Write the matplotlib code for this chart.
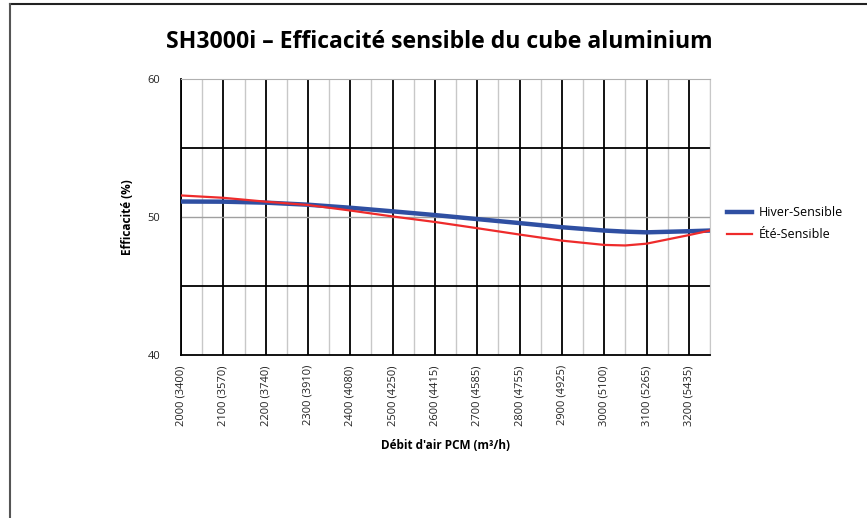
import matplotlib
matplotlib.use('Agg')
import matplotlib.pyplot as plt
from matplotlib.lines import Line2D

plt.rcParams['font.family'] = ['Open Sans', 'DejaVu Sans']

# débit d'air (PCM), le dernier point ferme la courbe au bord droit
debit = [2000, 2100, 2200, 2300, 2400, 2500, 2600, 2700, 2800, 2900, 3000, 3050, 3100, 3200, 3250]
hiver = [51.13, 51.12, 51.05, 50.9, 50.68, 50.42, 50.15, 49.86, 49.57, 49.27, 49.03, 48.95, 48.9, 48.98, 49.03]
ete = [51.57, 51.4, 51.12, 50.88, 50.48, 50.05, 49.65, 49.2, 48.74, 48.3, 47.99, 47.95, 48.08, 48.7, 49.03]

categories = [2000, 2100, 2200, 2300, 2400, 2500, 2600, 2700, 2800, 2900, 3000, 3100, 3200]
cat_labels = ['2000 (3400)', '2100 (3570)', '2200 (3740)', '2300 (3910)', '2400 (4080)',
              '2500 (4250)', '2600 (4415)', '2700 (4585)', '2800 (4755)', '2900 (4925)',
              '3000 (5100)', '3100 (5265)', '3200 (5435)']

fig = plt.figure(figsize=(8.67, 5.18), dpi=100)
ax = fig.add_axes([0.2088, 0.3141, 0.6101, 0.5334])

ax.set_xlim(2000, 3250)
ax.set_ylim(40, 60)

# grille
for c in categories:
    ax.axvline(c + 50, color='#c8c8c8', lw=1.0, zorder=1)
    ax.axvline(c, color='black', lw=1.3, zorder=1)
ax.axhline(50, color='#a0a0a0', lw=1.0, zorder=1)
for y in (45, 55):
    ax.axhline(y, color='black', lw=1.3, zorder=1)

ax.plot(debit, hiver, color='#2f4fa2', lw=3.2, label='Hiver-Sensible', zorder=3)
ax.plot(debit, ete, color='#ee2b2b', lw=1.6, label='Été-Sensible', zorder=4)

ax.spines['left'].set_color('black')
ax.spines['left'].set_linewidth(1.3)
ax.spines['bottom'].set_color('black')
ax.spines['bottom'].set_linewidth(1.3)
ax.spines['top'].set_color('#b0b0b0')
ax.spines['right'].set_color('#c8c8c8')

ax.set_yticks([40, 50, 60])
ax.set_xticks(categories)
ax.set_xticklabels(cat_labels, rotation=90, fontsize=8, color='#222222')
ax.tick_params(axis='y', length=0, pad=15, labelsize=8, labelcolor='#222222')
ax.tick_params(axis='x', length=0, pad=7)

ax.set_ylabel('Efficacité (%)', fontsize=8.5, fontweight='bold', labelpad=10)
ax.set_xlabel("Débit d'air PCM (m³/h)", fontsize=8.5, fontweight='bold', labelpad=10)

fig.text(0.507, 0.918, 'SH3000i – Efficacité sensible du cube aluminium',
         ha='center', va='center', fontsize=16.6, fontweight='bold')

fig.legend(loc='upper left', bbox_to_anchor=(0.826, 0.624), frameon=False,
           fontsize=9, handlelength=2.0, handletextpad=0.5, labelspacing=0.75)

# cadre
fig.add_artist(Line2D([0.0115, 1.0], [0.9923, 0.9923], color='#222222', lw=1.5,
                      transform=fig.transFigure))
fig.add_artist(Line2D([0.0115, 0.0115], [0.0, 0.9923], color='#555555', lw=1.5,
                      transform=fig.transFigure))

fig.savefig('out.png', dpi=100, facecolor='white')
